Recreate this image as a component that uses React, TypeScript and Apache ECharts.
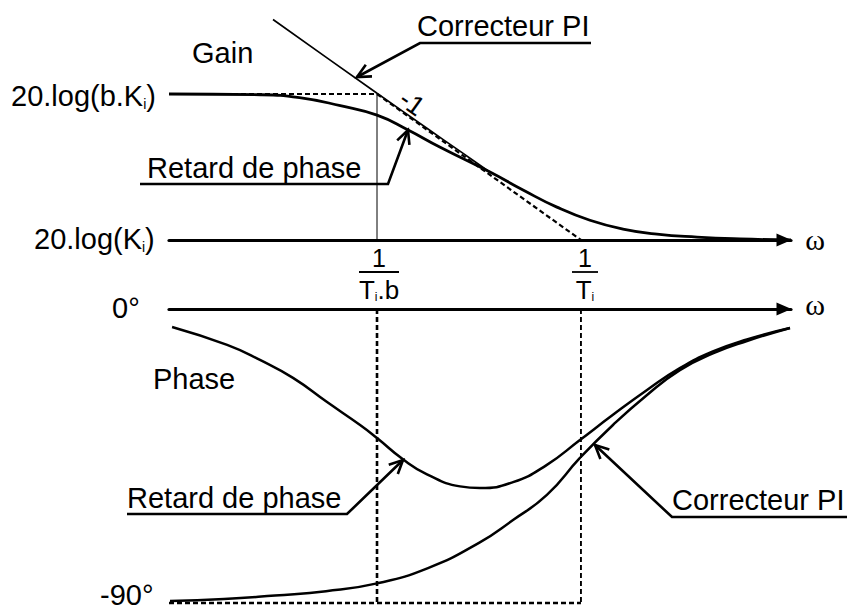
import React, { useEffect, useRef } from "react";
import * as echarts from "echarts";

// Abscissa of every curve: log10(ω·Ti). 1/(Ti.b) sits at -1, 1/Ti at 0 (b = 10).
const omegaMin = -2.02;
const omegaMax = 1.03;
const breakOmegas = [-1, 0];

// Gain, in dB above 20.log(Ki)
const gainMax = 30;
const gainLevelHigh = 20; // 20.log(b.Ki)
const gainLagOmega = [-2.02, -1.57, -1.38, -1.18, -1.0, -0.85, -0.69, -0.446, -0.284, -0.118, 0.044, 0.206, 0.373, 0.569, 0.78, 1.03];
const gainLagDb = [20.0, 19.9, 19.5, 18.4, 17.1, 15.1, 12.7, 9.3, 6.85, 4.5, 2.7, 1.5, 0.8, 0.4, 0.15, 0];
const gainPiOmega = [-1.51, -1.0, -0.75, -0.59, -0.446];
const gainPiDb = [30.2, 20.1, 15.2, 12.1, 9.3];

// Phase, in degrees
const phaseMin = -90;
const phaseLagOmega = [-2.005, -1.735, -1.574, -1.412, -1.245, -1.083, -1.0, -0.873, -0.755, -0.593, -0.495, -0.333, -0.167, -0.005, 0.157, 0.324, 0.485, 0.647, 0.814, 1.025];
const phaseLagDeg = [-5.5, -11.0, -15.6, -21.1, -28.5, -35.5, -39.5, -46.0, -50.6, -54.3, -54.8, -53.0, -47.7, -40.1, -32.4, -24.8, -18.1, -13.0, -9.3, -5.8];
const phasePiOmega = [-2.015, -1.75, -1.5, -1.25, -1.0, -0.75, -0.5, -0.333, -0.167, -0.005, 0.157, 0.324, 0.485, 0.647, 0.814, 1.025];
const phasePiDeg = [-89.4, -88.8, -87.7, -86.4, -84.0, -79.3, -71.6, -64.6, -56.9, -45.6, -35.5, -26.3, -18.7, -13.6, -9.8, -5.8];

const INK = "#000";
const SANS = '"Liberation Sans", Arial, sans-serif';
const SERIF = '"Liberation Serif", "DejaVu Serif", serif';
const LABEL_SIZE = 29;

const zip = (xs: number[], ys: number[]) => xs.map((x, i) => [x, ys[i]]);

function plainText(text: string, x: number, y: number, size = LABEL_SIZE, align = "left", font = SANS): any {
  return {
    type: "text",
    x,
    y,
    silent: true,
    style: {
      text,
      fill: INK,
      fontSize: size,
      fontFamily: font,
      align,
      textAlign: align,
      verticalAlign: "middle",
      textVerticalAlign: "middle",
    },
  };
}

function subText(text: string, x: number, y: number, size: number, align = "left"): any {
  return {
    type: "text",
    x,
    y,
    silent: true,
    style: {
      text,
      align,
      textAlign: align,
      verticalAlign: "middle",
      textVerticalAlign: "middle",
      rich: {
        m: { fontSize: size, fontFamily: SANS, fill: INK, color: INK },
        s: { fontSize: Math.round(size * 0.48), fontFamily: SANS, fill: INK, color: INK, verticalAlign: "bottom" },
      },
    },
  };
}

function segment(pts: number[][], width: number): any {
  return {
    type: "polyline",
    silent: true,
    shape: { points: pts },
    style: { stroke: INK, lineWidth: width, fill: null, lineJoin: "miter" },
  };
}

// Leader for a caption: underline, then a slanted stroke ending in an open arrowhead
function leader(underline: number[][], tip: number[]): any[] {
  const start = underline[underline.length - 1];
  const ang = Math.atan2(tip[1] - start[1], tip[0] - start[0]);
  const len = 15;
  const spread = 0.45;
  const a1 = [tip[0] - len * Math.cos(ang - spread), tip[1] - len * Math.sin(ang - spread)];
  const a2 = [tip[0] - len * Math.cos(ang + spread), tip[1] - len * Math.sin(ang + spread)];
  return [segment([...underline, tip], 2.6), segment([a1, tip, a2], 2.6)];
}

function fraction(cx: number, denom: string, barHalf: number): any[] {
  return [
    plainText("1", cx, 258, 25, "center"),
    segment([[cx - barHalf, 272], [cx + barHalf, 272]], 1.8),
    subText(denom, cx, 290, 26, "center"),
  ];
}

const axisBase = {
  type: "value",
  min: omegaMin,
  max: omegaMax,
  axisTick: { show: false },
  axisLabel: { show: false },
  splitLine: { show: false },
};

function lineSeries(data: number[][], grid: number, width: number, opts: any = {}): any {
  return {
    type: "line",
    xAxisIndex: grid,
    yAxisIndex: grid,
    data,
    showSymbol: false,
    symbol: "none",
    clip: false,
    silent: true,
    smooth: opts.smooth ?? false,
    lineStyle: { color: INK, width, type: opts.dash ?? "solid" },
    z: opts.z ?? 3,
  };
}

export default function App() {
  const ref = useRef<HTMLDivElement>(null);

  useEffect(() => {
    document.body.style.margin = "0";
    const chart = echarts.init(ref.current!, null, { renderer: "svg" });

    const arrowLine = {
      show: true,
      onZero: false,
      symbol: ["none", "triangle"],
      symbolSize: [13, 15],
      symbolOffset: [0, -7],
      lineStyle: { color: INK, width: 3.2 },
    };

    chart.setOption({
      animation: false,
      backgroundColor: "#fff",
      grid: [
        { left: 169, top: 21, width: 622, height: 219 },
        { left: 169, top: 309, width: 622, height: 294 },
      ],
      xAxis: [
        { ...axisBase, gridIndex: 0, position: "bottom", axisLine: arrowLine },
        { ...axisBase, gridIndex: 1, position: "top", axisLine: arrowLine },
      ],
      yAxis: [
        { type: "value", gridIndex: 0, min: 0, max: gainMax, show: false },
        { type: "value", gridIndex: 1, min: phaseMin, max: 0, show: false },
      ],
      series: [
        // gain panel
        lineSeries([[omegaMin, gainLevelHigh], [breakOmegas[0], gainLevelHigh], [breakOmegas[1], 0]], 0, 2.2, { dash: [5, 3] }),
        lineSeries([[breakOmegas[0], 0], [breakOmegas[0], gainLevelHigh]], 0, 1),
        lineSeries(zip(gainPiOmega, gainPiDb), 0, 1.7, { smooth: 0.2 }),
        lineSeries(zip(gainLagOmega, gainLagDb), 0, 2.8, { smooth: 0.5, z: 4 }),
        // phase panel
        lineSeries([[omegaMin, phaseMin], [breakOmegas[1], phaseMin]], 1, 2.4, { dash: [5, 3] }),
        lineSeries([[breakOmegas[0], 0], [breakOmegas[0], phaseMin]], 1, 2.6, { dash: [5, 3] }),
        lineSeries([[breakOmegas[1], 0], [breakOmegas[1], phaseMin]], 1, 1.9, { dash: [5, 3] }),
        lineSeries(zip(phaseLagOmega, phaseLagDeg), 1, 2.5, { smooth: 0.5, z: 4 }),
        lineSeries(zip(phasePiOmega, phasePiDeg), 1, 2.5, { smooth: 0.5, z: 4 }),
      ],
      graphic: [
        plainText("Gain", 192, 53),
        subText("{m|20.log(b.K}{s|i}{m|)}", 11, 96, LABEL_SIZE),
        subText("{m|20.log(K}{s|i}{m|)}", 34, 239, LABEL_SIZE),
        plainText("Correcteur PI", 417, 26),
        ...leader([[591, 43], [420, 43]], [357, 77]),
        plainText("Retard de phase", 147, 168),
        ...leader([[140, 184], [388, 184]], [408, 130]),
        {
          type: "text",
          x: 412,
          y: 103,
          rotation: -0.62,
          silent: true,
          style: {
            text: "-1",
            fill: INK,
            fontSize: 27,
            fontFamily: SANS,
            align: "center",
            textAlign: "center",
            verticalAlign: "middle",
            textVerticalAlign: "middle",
          },
        },
        plainText("ω", 815, 239, 30, "center", SERIF),
        ...fraction(379, "{m|T}{s|i}{m|.b}", 20),
        ...fraction(585, "{m|T}{s|i}", 13),
        plainText("0°", 112, 308),
        plainText("ω", 815, 304, 30, "center", SERIF),
        plainText("Phase", 153, 379),
        plainText("-90°", 100, 595),
        plainText("Retard de phase", 127, 498),
        ...leader([[127, 514], [347, 514]], [403, 460]),
        plainText("Correcteur PI", 672, 500),
        ...leader([[847, 517], [672, 517]], [595, 445]),
      ],
    });

    return () => chart.dispose();
  }, []);

  return <div ref={ref} style={{ width: 847, height: 610 }} />;
}
